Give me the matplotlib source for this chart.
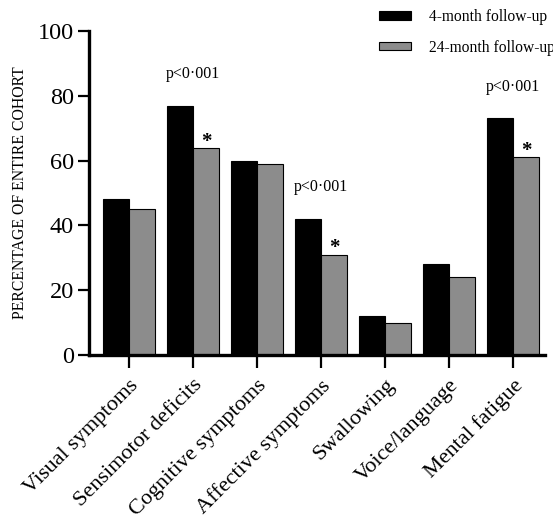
import matplotlib
matplotlib.use('Agg')
import matplotlib.pyplot as plt
import numpy as np

plt.rcParams['font.family'] = ['Liberation Serif', 'DejaVu Serif']

categories = ['Visual symptoms', 'Sensimotor deficits', 'Cognitive symptoms',
              'Affective symptoms', 'Swallowing', 'Voice/language', 'Mental fatigue']
month4 = [48, 77, 60, 42, 12, 28, 73]
month24 = [45, 64, 59, 31, 10, 24, 61]
significant = [False, True, False, True, False, False, True]
series_labels = ['4-month follow-up', '24-month follow-up']

fig = plt.figure(figsize=(5.53, 5.2), dpi=100)
ax = fig.add_axes([0.161, 0.3173, 0.8245, 0.6231])

x = np.arange(len(categories))
w = 0.405
b1 = ax.bar(x - w / 2, month4, w, color='black', edgecolor='black', linewidth=0.8,
            label=series_labels[0])
b2 = ax.bar(x + w / 2, month24, w, color='#8c8c8c', edgecolor='black', linewidth=0.8,
            label=series_labels[1])

# p-values and stars on the significant pairs
for i, sig in enumerate(significant):
    if not sig:
        continue
    ax.text(x[i], month4[i] + 7.3, 'p<0\u00b7001', ha='center', va='bottom', fontsize=11.5)
    ax.text(x[i] + w / 2, month24[i] - 1.2, '*', ha='center', va='bottom',
            fontsize=15, fontweight='bold')

ax.set_xlim(-0.625, 6.5)
ax.set_ylim(0, 100)
ax.set_yticks([0, 20, 40, 60, 80, 100])
ax.set_xticks(x)
ax.set_xticklabels(categories, rotation=45, ha='right', rotation_mode='anchor', fontsize=16)
ax.tick_params(axis='y', labelsize=17.5, width=1.6, length=8, pad=3)
ax.tick_params(axis='x', width=1.6, length=9, pad=6)

for s in ['top', 'right']:
    ax.spines[s].set_visible(False)
for s in ['left', 'bottom']:
    ax.spines[s].set_linewidth(2.4)

ax.set_ylabel('PERCENTAGE OF ENTIRE COHORT', fontsize=11.3, labelpad=7)

leg = fig.legend(handles=[b1, b2], loc='upper right', bbox_to_anchor=(1.028, 1.01),
                 frameon=False, fontsize=11.2, handlelength=2.1, handleheight=0.5,
                 labelspacing=0.95, handletextpad=1.1)

fig.savefig('out.png', dpi=100)
